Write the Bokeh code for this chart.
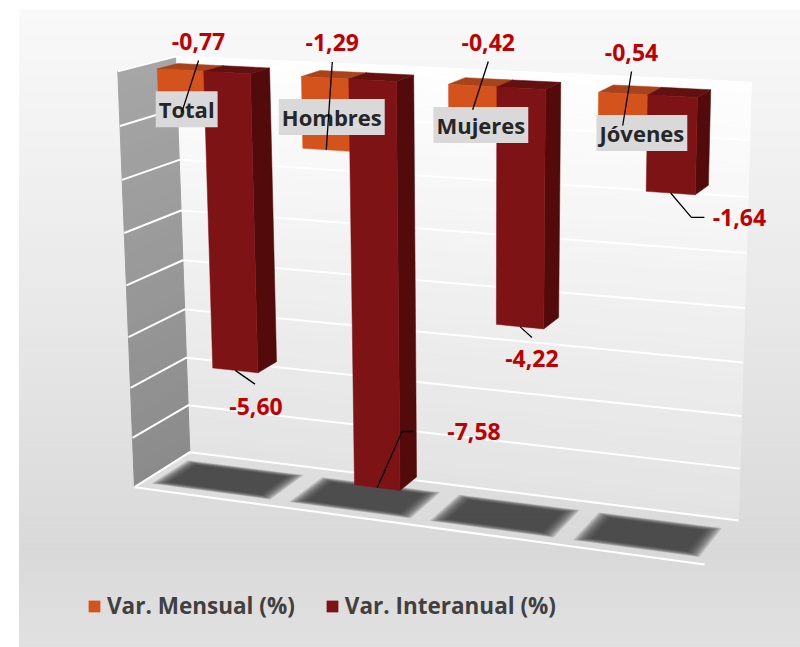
import numpy as np
from bokeh.plotting import figure
from bokeh.models import Range1d, Legend, LegendItem
from bokeh.core.properties import value
from bokeh.embed import file_html
from bokeh.resources import INLINE

# ---------------- data ----------------
categories = ["Total", "Hombres", "Mujeres", "Jóvenes"]
var_mensual = [-0.77, -1.29, -0.42, -0.54]
var_interanual = [-5.60, -7.58, -4.22, -1.64]
series_names = ["Var. Mensual (%)", "Var. Interanual (%)"]
axis_min, axis_max, axis_step = -8.0, 0.0, 1.0

# ---------------- styles / layout ----------------
FONT = "Open Sans"
C_OR_FRONT, C_OR_TOP, C_OR_SIDE = "#d4531d", "#a8431a", "#9a3a12"
C_DR_FRONT, C_DR_TOP, C_DR_SIDE = "#7e1315", "#631011", "#520a0b"
LABEL_RED = "#c00000"
W, H = 800, 647

# 3-D box corners on the page (front plane w=0, back plane w=1)
FTL = np.array([117.3, 70.7]); FTR = np.array([715.0, 104.0])
FBL = np.array([134.0, 486.7]); FBR = np.array([704.0, 564.0])
BTL = np.array([175.0, 56.0]); BTR = np.array([751.0, 82.0])
BBL = np.array([189.3, 451.7]); BBR = np.array([738.0, 520.0])


def P(u, t, w):
    ue = u - 0.04 * u * (1 - u)
    te = t + 0.06 * t * (1 - t)
    front = (1 - ue) * (1 - te) * FTL + ue * (1 - te) * FTR + (1 - ue) * te * FBL + ue * te * FBR
    back = (1 - ue) * (1 - te) * BTL + ue * (1 - te) * BTR + (1 - ue) * te * BBL + ue * te * BBR
    return (1 - w) * front + w * back


def tval(v):
    return (axis_max - v) / (axis_max - axis_min)


def gray(g):
    g = int(round(g))
    return "#%02x%02x%02x" % (g, g, g)


def interp(stops, s):
    for (s0, g0), (s1, g1) in zip(stops[:-1], stops[1:]):
        if s <= s1:
            f = (s - s0) / (s1 - s0) if s1 > s0 else 0
            return g0 + (g1 - g0) * f
    return stops[-1][1]


def fmt(v):
    return f"{v:.2f}".replace(".", ",")


p = figure(width=W, height=H, x_range=Range1d(0, W), y_range=Range1d(H, 0),
           output_backend="svg", toolbar_location=None, min_border=0,
           x_axis_location=None, y_axis_location=None)
p.grid.visible = False
p.outline_line_color = None
p.background_fill_color = "white"
p.border_fill_color = "white"

# ---------------- panel background gradient ----------------
panel_stops = [(0.0, 249), (0.45, 233), (0.85, 217), (1.0, 225)]
NP = 80
py0, py1 = 10.0, 647.0
lefts, rights, tops, bottoms, pcols = [], [], [], [], []
for k in range(NP):
    a = py0 + (py1 - py0) * k / NP
    b = py0 + (py1 - py0) * (k + 1) / NP
    lefts.append(19); rights.append(800); tops.append(a); bottoms.append(b)
    pcols.append(gray(interp(panel_stops, (k + 0.5) / NP)))
p.quad(left=lefts, right=rights, top=tops, bottom=bottoms, fill_color=pcols, line_color=pcols, line_width=1)

# ---------------- walls ----------------
NW = 40
bx, by, bc = [], [], []
lx, ly, lc = [], [], []
for k in range(NW):
    t0, t1 = k / NW, (k + 1) / NW
    q = [P(0, t0, 1), P(1, t0, 1), P(1, t1, 1), P(0, t1, 1)]
    bx.append([pt[0] for pt in q]); by.append([pt[1] for pt in q])
    bc.append(gray(interp([(0, 254), (1, 227)], (k + 0.5) / NW)))
    q = [P(0, t0, 0), P(0, t0, 1), P(0, t1, 1), P(0, t1, 0)]
    lx.append([pt[0] for pt in q]); ly.append([pt[1] for pt in q])
    lc.append(gray(interp([(0, 166), (1, 139)], (k + 0.5) / NW)))
p.patches(bx, by, fill_color=bc, line_color=bc, line_width=1)
p.patches(lx, ly, fill_color=lc, line_color=lc, line_width=1)

# gridlines
n_div = int(round((axis_max - axis_min) / axis_step))
gxs, gys = [], []
for k in range(n_div + 1):
    t = k / n_div
    a, b, c = P(0, t, 0), P(0, t, 1), P(1, t, 1)
    gxs.append([a[0], b[0], c[0]]); gys.append([a[1], b[1], c[1]])
f0, f1 = P(0, 1, 0), P(1, 1, 0)
gxs.append([f0[0], f1[0]]); gys.append([f0[1], f1[1]])
p.multi_line(gxs, gys, line_color="white", line_width=2)

# ---------------- bars ----------------
ncat = len(categories)
slot = 1.0 / ncat
bw = 0.324 * slot
w0, w1 = 0.25, 0.61

# blurred shadows on the floor
NS = 10
for j in range(NS):
    f = (NS - j) / NS
    du, dw = 0.028 * f, 0.10 * f
    sx, sy = [], []
    for i in range(ncat):
        c = (i + 0.5) * slot
        ua, ub = c - 0.080 - du, c + 0.080 + du
        wa, wb = 0.24 - dw, 0.70 + dw
        q = [P(ua, 1, wa), P(ub, 1, wa), P(ub, 1, wb), P(ua, 1, wb)]
        sx.append([pt[0] for pt in q]); sy.append([pt[1] for pt in q])
    p.patches(sx, sy, fill_color="#3c3c3c", fill_alpha=0.19, line_color=None)


def bar_faces(series, side):
    fx, fy, tx, ty, sx, sy = [], [], [], [], [], []
    for i, v in enumerate(series):
        c = (i + 0.5) * slot
        u0, u1 = (c - bw, c) if side < 0 else (c, c + bw)
        tb = tval(v)
        t0 = tval(0.0)
        q = [P(u0, t0, w0), P(u1, t0, w0), P(u1, tb, w0), P(u0, tb, w0)]
        fx.append([pt[0] for pt in q]); fy.append([pt[1] for pt in q])
        q = [P(u0, t0, w0), P(u1, t0, w0), P(u1, t0, w1), P(u0, t0, w1)]
        tx.append([pt[0] for pt in q]); ty.append([pt[1] for pt in q])
        q = [P(u1, t0, w0), P(u1, t0, w1), P(u1, tb, w1), P(u1, tb, w0)]
        sx.append([pt[0] for pt in q]); sy.append([pt[1] for pt in q])
    return fx, fy, tx, ty, sx, sy


ofx, ofy, otx, oty, osx, osy = bar_faces(var_mensual, -1)
p.patches(osx, osy, fill_color=C_OR_SIDE, line_color=C_OR_SIDE, line_width=0.5)
p.patches(otx, oty, fill_color=C_OR_TOP, line_color=C_OR_TOP, line_width=0.5)
r_or = p.patches(ofx, ofy, fill_color=C_OR_FRONT, line_color=C_OR_FRONT, line_width=0.5)
ifx, ify, itx, ity, isx, isy = bar_faces(var_interanual, 1)
p.patches(isx, isy, fill_color=C_DR_SIDE, line_color=C_DR_SIDE, line_width=0.5)
p.patches(itx, ity, fill_color=C_DR_TOP, line_color=C_DR_TOP, line_width=0.5)
r_dr = p.patches(ifx, ify, fill_color=C_DR_FRONT, line_color=C_DR_FRONT, line_width=0.5)

# ---------------- category labels ----------------
cat_dx = [-17, -17, -16, -6]
cat_dy = 38
cx, cy = [], []
for i in range(ncat):
    a = P((i + 0.5) * slot, tval(0.0), w0)
    cx.append(a[0] + cat_dx[i]); cy.append(a[1] + cat_dy)
p.text(x=cx, y=cy, text=categories, text_font=value(FONT), text_font_size="22px",
       text_font_style="bold", text_color="#262626", text_align="center", text_baseline="middle",
       background_fill_color="#d9d9d9", padding=3)

# ---------------- value labels + leader lines ----------------
m_off = [(16.7, -70.7), (6.0, -106.8), (15.6, -67.3), (8.8, -73.0)]
i_off = [(20.7, 35.8), (96.8, -56.2), (11.9, 31.9), (68.7, 24.4)]
i_lead = [[(-1, -22)], [(-72, 0), (-61, 0)], [(0, -21)], [(-48, 0), (-35, 0)]]

lbx, lby, ltx = [], [], []
lxs, lys = [], []
for i, v in enumerate(var_mensual):
    c = (i + 0.5) * slot
    a = P(c - bw / 2, tval(v), w0)
    L = (a[0] + m_off[i][0], a[1] + m_off[i][1])
    lbx.append(L[0]); lby.append(L[1]); ltx.append(fmt(v))
    lxs.append([a[0], L[0]]); lys.append([a[1], L[1] + 19])
for i, v in enumerate(var_interanual):
    c = (i + 0.5) * slot
    a = P(c + bw / 2, tval(v), w0)
    L = (a[0] + i_off[i][0], a[1] + i_off[i][1])
    lbx.append(L[0]); lby.append(L[1]); ltx.append(fmt(v))
    lxs.append([a[0]] + [L[0] + d[0] for d in i_lead[i]])
    lys.append([a[1]] + [L[1] + d[1] for d in i_lead[i]])

p.multi_line(lxs, lys, line_color="black", line_width=1.3)
p.text(x=lbx, y=lby, text=ltx, text_font=value(FONT), text_font_size="23px",
       text_font_style="bold", text_color=LABEL_RED, text_align="center", text_baseline="middle")

# ---------------- legend ----------------
legend = Legend(items=[LegendItem(label=series_names[0], renderers=[r_or]),
                       LegendItem(label=series_names[1], renderers=[r_dr])],
                location=(87, 26), orientation="horizontal", glyph_width=14, glyph_height=14,
                label_standoff=6, spacing=30, padding=0, margin=0,
                border_line_color=None, background_fill_alpha=0,
                label_text_font=FONT, label_text_font_style="bold",
                label_text_font_size="22.5px", label_text_color="#404040")
p.add_layout(legend)

open("out.html", "w").write(file_html(p, INLINE))
